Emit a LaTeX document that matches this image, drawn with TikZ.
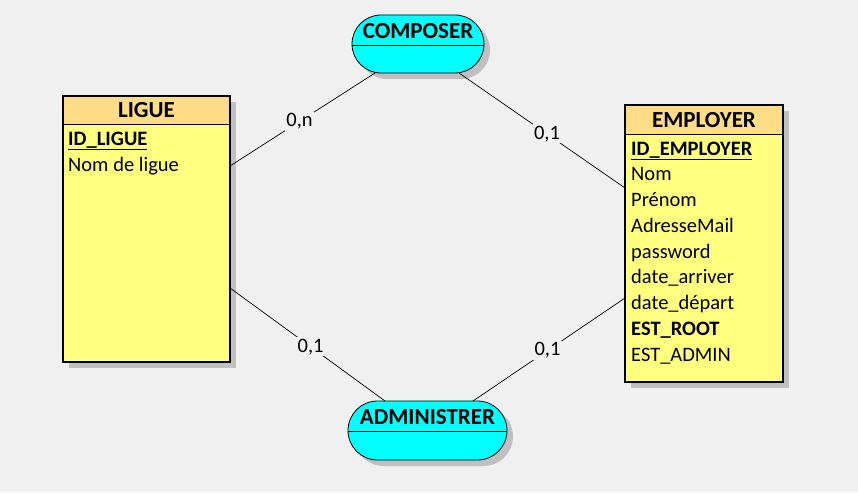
\documentclass[tikz,border=0pt]{standalone}
\usepackage{fontspec}
\setmainfont{Carlito}
\definecolor{bgc}{HTML}{F0F0F0}
\definecolor{entbody}{HTML}{FFFF80}
\definecolor{enthead}{HTML}{FFDD88}
\definecolor{relfill}{HTML}{00FFFF}
\definecolor{shadowc}{HTML}{C0C0C0}
\begin{document}
\begin{tikzpicture}[x=1pt,y=-1pt,
  shadowed/.style={preaction={fill=shadowc, transform canvas={shift={(6pt,-6pt)}}}},
  ent/.style 2 args={draw=black, line width=1.4pt, fill=entbody, shadowed,
    minimum width=#1, minimum height=#2, inner sep=0pt, outer sep=0pt},
  enthdr/.style={path picture={
      \fill[enthead] (path picture bounding box.north west) rectangle ([yshift=-#1]path picture bounding box.north east);
      \draw[line width=0.8pt] ([yshift=-#1]path picture bounding box.north west) -- ([yshift=-#1]path picture bounding box.north east);}},
  rel/.style 2 args={draw=black, line width=0.8pt, fill=relfill, shadowed,
    rounded corners=#2/2, minimum width=#1, minimum height=#2, inner sep=0pt, outer sep=0pt,
    path picture={\draw[line width=0.8pt] ([yshift=-1pt]path picture bounding box.west) -- ([yshift=-1pt]path picture bounding box.east);}},
  hdrtext/.style={font=\fontsize{23}{27}\selectfont\bfseries, inner sep=0pt},
  attr/.style={font=\fontsize{20.5}{25}\selectfont, inner sep=0pt, anchor=base west},
  lbl/.style={font=\fontsize{20.5}{25}\selectfont, fill=bgc, inner sep=1.5pt},
  conn/.style={draw=black, line width=0.7pt}
]
\fill[bgc] (0,0) rectangle (858,492);
\useasboundingbox (0,0) rectangle (858,492);

% entities
\node[ent={167pt}{266pt}, enthdr=28pt] (ligue) at (146.5,229) {};
\node[hdrtext] (ligueT) at (146.5,110) {LIGUE};
\node[attr] (l1) at (68,145) {\textbf{\underline{ID\_LIGUE}}};
\node[attr] (l2) at (68,171) {Nom de ligue};

\node[ent={158pt}{277pt}, enthdr=29pt] (employer) at (704,243.5) {};
\node[hdrtext] (employerT) at (704,120) {EMPLOYER};
\node[attr] (e1) at (631,155) {\textbf{\underline{ID\_EMPLOYER}}};
\node[attr] (e2) at (631,180.75) {Nom};
\node[attr] (e3) at (631,206.5) {Prénom};
\node[attr] (e4) at (631,232.25) {AdresseMail};
\node[attr] (e5) at (631,258) {password};
\node[attr] (e6) at (631,283.75) {date\_arriver};
\node[attr] (e7) at (631,309.5) {date\_départ};
\node[attr] (e8) at (631,335.25) {\textbf{EST\_ROOT}};
\node[attr] (e9) at (631,361) {EST\_ADMIN};

% relationships
\node[rel={132pt}{58pt}] (composer) at (418,44) {};
\node[hdrtext] (composerT) at (418,31) {COMPOSER};
\node[rel={159pt}{59pt}] (admin) at (427.5,430.5) {};
\node[hdrtext] (adminT) at (427.5,417) {ADMINISTRER};

% connectors
\draw[conn] ([yshift=63pt]ligue.east) -- node[lbl, pos=.48] (c1) {0,n} ([xshift=-43pt]composer.south);
\draw[conn] ([xshift=41pt]composer.south) -- node[lbl, pos=.53] (c2) {0,1} ([yshift=55.5pt]employer.west);
\draw[conn] ([yshift=-59pt]ligue.east) -- node[lbl, pos=.52] (c3) {0,1} ([xshift=-42.5pt]admin.north);
\draw[conn] ([yshift=-54.5pt]employer.west) -- node[lbl, pos=.51] (c4) {0,1} ([xshift=45.5pt]admin.north);
\end{tikzpicture}
\end{document}
